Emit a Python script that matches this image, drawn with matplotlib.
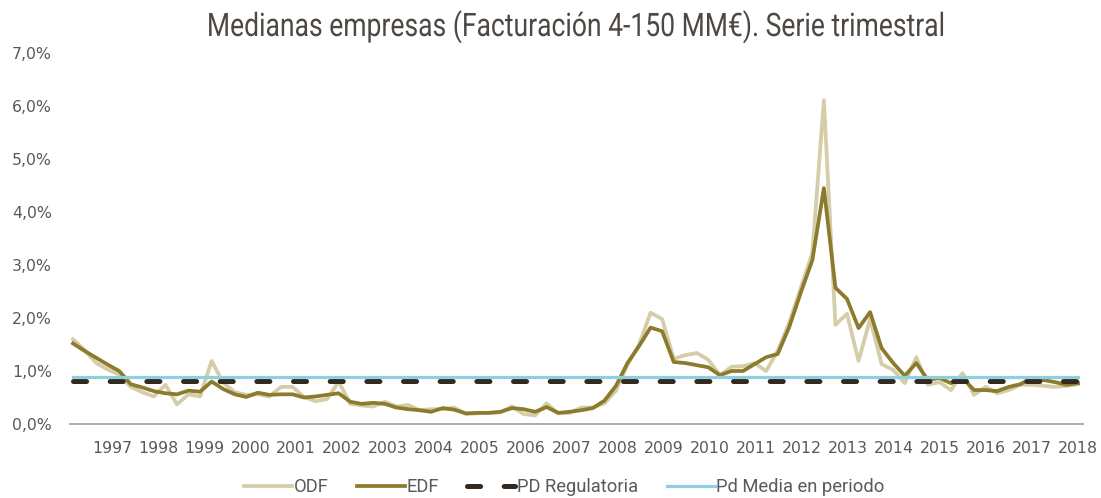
import matplotlib
matplotlib.use("Agg")
import matplotlib.pyplot as plt
import numpy as np
from matplotlib.ticker import FuncFormatter
from matplotlib.patheffects import AbstractPathEffect
from matplotlib.transforms import Affine2D

odf = [1.60, 1.40, 1.15, 1.03, 0.93, 0.70, 0.60, 0.52, 0.74, 0.37, 0.56, 0.52,
       1.19, 0.78, 0.60, 0.55, 0.56, 0.52, 0.70, 0.70, 0.51, 0.43, 0.47, 0.80,
       0.38, 0.35, 0.33, 0.42, 0.33, 0.36, 0.26, 0.28, 0.28, 0.31, 0.19, 0.20,
       0.21, 0.22, 0.33, 0.19, 0.16, 0.39, 0.20, 0.21, 0.31, 0.31, 0.39, 0.63,
       1.12, 1.50, 2.10, 1.98, 1.23, 1.30, 1.34, 1.21, 0.92, 1.08, 1.09, 1.15,
       1.00, 1.38, 1.91, 2.57, 3.23, 6.11, 1.87, 2.08, 1.19, 1.98, 1.13, 1.02,
       0.77, 1.26, 0.74, 0.79, 0.64, 0.96, 0.55, 0.70, 0.58, 0.64, 0.74, 0.74,
       0.72, 0.70, 0.72, 0.75]
edf = [1.52, 1.38, 1.25, 1.12, 1.00, 0.75, 0.69, 0.62, 0.58, 0.56, 0.63, 0.61,
       0.80, 0.66, 0.56, 0.51, 0.59, 0.55, 0.56, 0.56, 0.50, 0.52, 0.55, 0.58,
       0.42, 0.38, 0.40, 0.38, 0.31, 0.28, 0.26, 0.23, 0.30, 0.27, 0.20, 0.21,
       0.21, 0.23, 0.30, 0.28, 0.23, 0.32, 0.21, 0.23, 0.26, 0.30, 0.44, 0.72,
       1.15, 1.47, 1.82, 1.75, 1.17, 1.15, 1.11, 1.07, 0.92, 1.00, 1.00, 1.13,
       1.26, 1.32, 1.83, 2.48, 3.09, 4.45, 2.57, 2.36, 1.81, 2.11, 1.43, 1.15,
       0.91, 1.15, 0.83, 0.87, 0.77, 0.87, 0.64, 0.64, 0.62, 0.70, 0.75, 0.87,
       0.83, 0.79, 0.74, 0.77]
pd_regulatoria = 0.82
pd_media = 0.885
year_labels = [str(y) for y in range(1997, 2019)]
title = 'Medianas empresas (Facturación 4-150 MM€). Serie trimestral'


class HSqueeze(AbstractPathEffect):
    """Compress text horizontally around its centre (condensed look)."""
    def __init__(self, sx=1.0):
        super().__init__()
        self.sx = sx

    def draw_path(self, renderer, gc, tpath, affine, rgbFace=None):
        ext = tpath.get_extents(affine)
        cx = 0.5 * (ext.x0 + ext.x1)
        t = affine + Affine2D().translate(-cx, 0).scale(self.sx, 1).translate(cx, 0)
        renderer.draw_path(gc, tpath, t, rgbFace)


W, H = 1101, 498
n = len(odf)
x = np.arange(n)

plt.rcParams['lines.scale_dashes'] = False
fig = plt.figure(figsize=(W / 100, H / 100), dpi=100)
ax = fig.add_axes([70 / W, 74 / H, 1013 / W, 371 / H])

txt = '#595959'
dash_pat = (9.4, 17.0)
ax.plot(x, odf, color='#D4CDA7', lw=2.7, label='ODF', zorder=2)
ax.plot(x, edf, color='#8C7B2D', lw=2.7, label='EDF', zorder=3)
ax.plot(x, [pd_regulatoria] * n, color='#33291E', lw=3.6, dashes=dash_pat,
        dash_capstyle='round', label='PD Regulatoria', zorder=4)
ax.plot(x, [pd_media] * n, color='#8ECFE0', lw=2.3, label='Pd Media en periodo', zorder=5)

ax.set_xlim(-0.26, 87.43)
ax.set_ylim(0, 7.0)
ax.set_yticks(np.arange(0, 7.01, 1.0))
ax.yaxis.set_major_formatter(FuncFormatter(lambda v, p: f"{v:.1f}%".replace('.', ',')))
ax.set_xticks(np.linspace(3.4, 87.0, 22))
ax.set_xticklabels(year_labels)
for s in ['top', 'right', 'left']:
    ax.spines[s].set_visible(False)
ax.spines['bottom'].set_color('#A6A6A6')
ax.spines['bottom'].set_linewidth(1.3)
ax.tick_params(axis='both', length=0, colors=txt, labelsize=11.3)
ax.tick_params(axis='x', pad=12)
ax.tick_params(axis='y', pad=13)

# Title (condensed look via horizontal squeeze)
ttl = fig.text(576.5 / W, 1 - 36 / H, title, ha='center', va='baseline',
               fontsize=23.3, color='#4D4843', family=['Roboto', 'DejaVu Sans'])
fig.canvas.draw()
rend = fig.canvas.get_renderer()
tw = ttl.get_window_extent(rend).width
ttl.set_path_effects([HSqueeze(739.0 / tw)])

# Legend: size font so the longest label matches the reference width
probe = fig.text(0, 0, 'Pd Media en periodo', fontsize=13, family=['Roboto', 'DejaVu Sans'])
pw = probe.get_window_extent(rend).width
probe.remove()
fs = 13 * 167.0 / pw
px_per_fs = fs * 100 / 72.0
handles, labels = ax.get_legend_handles_labels()
leg = fig.legend(handles, labels, loc='center left',
                 bbox_to_anchor=(244 / W, 1 - 487 / H), ncol=4, frameon=False,
                 borderpad=0, borderaxespad=0,
                 handlelength=48 / px_per_fs, handletextpad=2 / px_per_fs,
                 columnspacing=28 / px_per_fs,
                 prop={'family': ['Roboto', 'DejaVu Sans'], 'size': fs})
for t in leg.get_texts():
    t.set_color(txt)

fig.savefig('out.png', dpi=100)
